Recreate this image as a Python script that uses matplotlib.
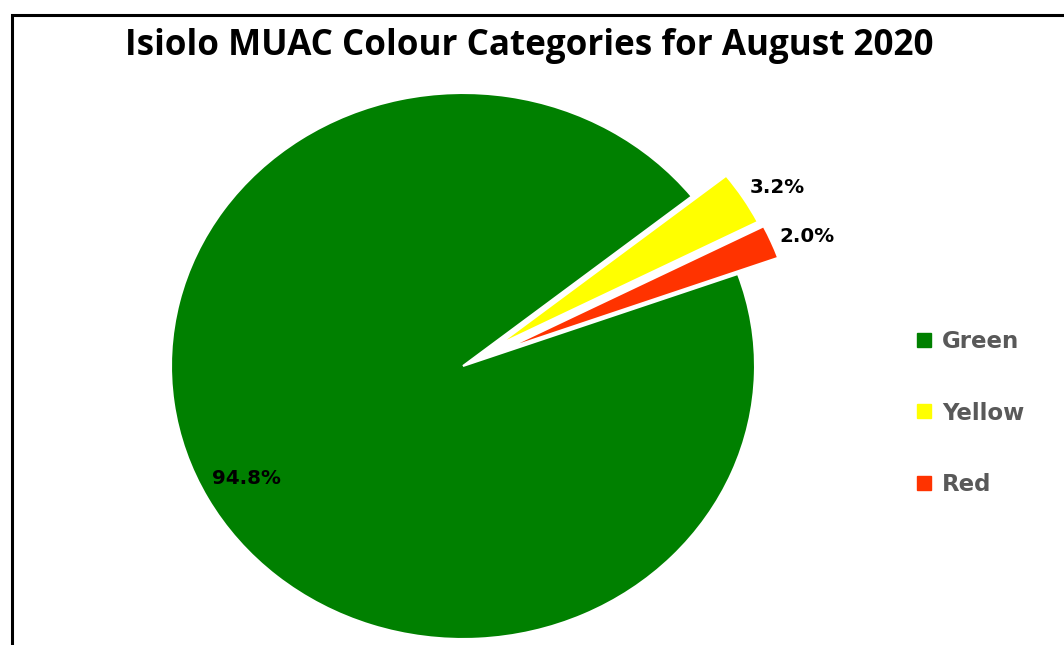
import matplotlib
matplotlib.use('Agg')
import matplotlib.pyplot as plt
import numpy as np
from matplotlib.lines import Line2D
from matplotlib.patches import Rectangle

# MUAC colour categories, Isiolo, August 2020
categories = ["Green", "Yellow", "Red"]
shares = [94.8, 3.2, 2.0]
colours = ["#008000", "#FFFF00", "#FF3300"]
explode = [0.0, 0.14, 0.15]

W, H = 1064, 645
fig = plt.figure(figsize=(W / 100, H / 100), dpi=100)

# pie centre and radii in pixels (slightly wider than tall)
cx, cy = 463, 366
rx, ry = 292, 273
ax = fig.add_axes([0, 0, 1, 1])

wedges, texts, autotexts = ax.pie(
    shares, colors=colours, explode=explode, startangle=19.7,
    counterclock=False, autopct="%.1f%%", pctdistance=0.85,
    wedgeprops=dict(edgecolor="white", linewidth=1.5),
    textprops=dict(fontsize=14.3, fontweight="bold", color="black"))

# small slices get their labels just outside the arc
for w, t in zip(wedges[1:], autotexts[1:]):
    mid = np.deg2rad((w.theta1 + w.theta2) / 2 - 1.5)
    x0, y0 = w.center
    t.set_position((x0 + 1.12 * np.cos(mid), y0 + 1.12 * np.sin(mid)))

ax.set_aspect("auto")
ax.set_xlim(-cx / rx, (W - cx) / rx)
ax.set_ylim(-(H - cy) / ry, cy / ry)
ax.axis("off")

fig.text(529 / W, 1 - 46 / H, "Isiolo MUAC Colour Categories for August 2020",
         ha="center", va="center", fontsize=25.2, fontweight="bold",
         family="Open Sans", color="black")

handles = [Line2D([], [], marker="s", linestyle="none", markersize=9.5,
                  markerfacecolor=c, markeredgecolor=c) for c in colours]
fig.legend(handles, categories, loc="center left",
           bbox_to_anchor=(896 / W, 1 - 413 / H), frameon=False,
           prop=dict(size=16.5, weight="bold"), labelcolor="#595959",
           handlelength=0.6, handletextpad=0.5, labelspacing=2.13)

# chart frame
fig.add_artist(Rectangle((12 / W, -0.1), 1.2, (H - 15) / H + 0.1,
                         transform=fig.transFigure, fill=False,
                         edgecolor="black", linewidth=2.2))

fig.savefig("out.png", dpi=100)
